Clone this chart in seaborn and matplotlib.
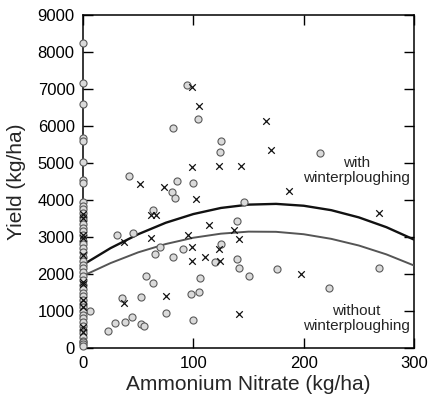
import numpy as np
import pandas as pd
import matplotlib
matplotlib.use("Agg")
import matplotlib.pyplot as plt
import seaborn as sns

# ---- data ----
circle_x = [42, 82, 85, 81, 83, 94, 104, 125, 124, 100, 63, 31, 45, 70, 65.5, 82, 91,
            57, 63, 106, 35, 53, 98, 105, 75, 44, 38, 29, 23, 53, 55.5, 99.5, 140,
            125, 120, 140, 141, 150, 176, 146, 215, 268.5, 223, 6]
circle_y = [4650, 5940, 4500, 4210, 4050, 7120, 6200, 5595, 5310, 4450, 3730, 3060, 3100,
            2720, 2540, 2450, 2670, 1940, 1770, 1900, 1340, 1380, 1460, 1510, 940, 840,
            710, 665, 450, 640, 605, 750, 3420, 2810, 2320, 2400, 2155, 1950, 2140, 3950,
            5280, 2150, 1630, 1000]
circle_zero_y = [8250, 7150, 6600, 5670, 5600, 5040, 4550, 4460, 3950, 3850, 3750, 3650,
                 3550, 3450, 3350, 3250, 3150, 3050, 2900, 2800, 2700, 2600, 2450, 2350,
                 2250, 2150, 2050, 1950, 1850, 1700, 1600, 1500, 1400, 1300, 1200, 1100,
                 1000, 900, 800, 700, 600, 500, 400, 300, 200, 150, 100, 50]

cross_x = [52, 73.5, 99, 105, 165.5, 170.5, 99, 123, 143.5, 186.5, 102.5, 62, 66, 37, 62,
           95, 98.5, 98.5, 37, 75.5, 114, 137, 141.5, 123.5, 111, 124, 198, 141.5, 268]
cross_y = [4420, 4345, 7050, 6540, 6135, 5345, 4890, 4910, 4910, 4240, 4030, 3595, 3595,
           2855, 2970, 3060, 2730, 2350, 1205, 1395, 3320, 3190, 2940, 2685, 2470, 2350,
           2000, 920, 3640]
cross_zero_y = [3620, 3510, 3050, 2970, 2510, 1780, 1740, 1300, 1110, 570, 430]

curve_x = [0, 25, 50, 75, 100, 125, 150, 175, 200, 225, 250, 275, 300]
with_y = [2250, 2700, 3075, 3385, 3620, 3785, 3875, 3895, 3845, 3725, 3530, 3265, 2930]
without_y = [1950, 2295, 2585, 2810, 2980, 3090, 3145, 3140, 3075, 2950, 2770, 2530, 2230]

x_ticks = [0, 100, 200, 300]
y_ticks = [0, 1000, 2000, 3000, 4000, 5000, 6000, 7000, 8000, 9000]

circles = pd.DataFrame({"x": circle_x + [0] * len(circle_zero_y),
                        "y": circle_y + circle_zero_y})
crosses = pd.DataFrame({"x": cross_x + [0] * len(cross_zero_y),
                        "y": cross_y + cross_zero_y})
curves_with = pd.DataFrame({"x": curve_x, "y": with_y})
curves_without = pd.DataFrame({"x": curve_x, "y": without_y})

sns.set_style("ticks")
plt.rcParams["font.family"] = ["Liberation Sans", "DejaVu Sans"]

fig = plt.figure(figsize=(4.28, 4.05), dpi=100)
ax = fig.add_axes([83 / 428, 57 / 405, (414 - 83) / 428, (348 - 15) / 405])

sns.lineplot(data=curves_with, x="x", y="y", ax=ax, color="#111111", linewidth=1.7, zorder=3)
sns.lineplot(data=curves_without, x="x", y="y", ax=ax, color="#555555", linewidth=1.4, zorder=3)

sns.scatterplot(data=circles, x="x", y="y", ax=ax, marker="o", s=26,
                facecolor="#dadada", edgecolor="#5a5a5a", linewidth=0.8,
                clip_on=False, zorder=4)
sns.scatterplot(data=crosses, x="x", y="y", ax=ax, marker="x", s=22,
                color="#111111", linewidth=0.9, clip_on=False, zorder=5)

ax.set_xlim(0, 300)
ax.set_ylim(0, 9000)
ax.set_xticks(x_ticks)
ax.set_yticks(y_ticks)
ax.tick_params(direction="in", length=7.5, width=1.0, top=True, right=True,
               labelsize=12, colors="black", pad=6)
for sp in ax.spines.values():
    sp.set_visible(True)
    sp.set_linewidth(1.1)
    sp.set_color("black")

ax.set_xlabel("Ammonium Nitrate (kg/ha)", fontsize=15, labelpad=3)
ax.set_ylabel("Yield (kg/ha)", fontsize=15, labelpad=8)

ax.text(248, 4800, "with\nwinterploughing", ha="center", va="center",
        fontsize=11, linespacing=1.05)
ax.text(248, 800, "without\nwinterploughing", ha="center", va="center",
        fontsize=11, linespacing=1.05)

fig.savefig("out.png", dpi=100)
